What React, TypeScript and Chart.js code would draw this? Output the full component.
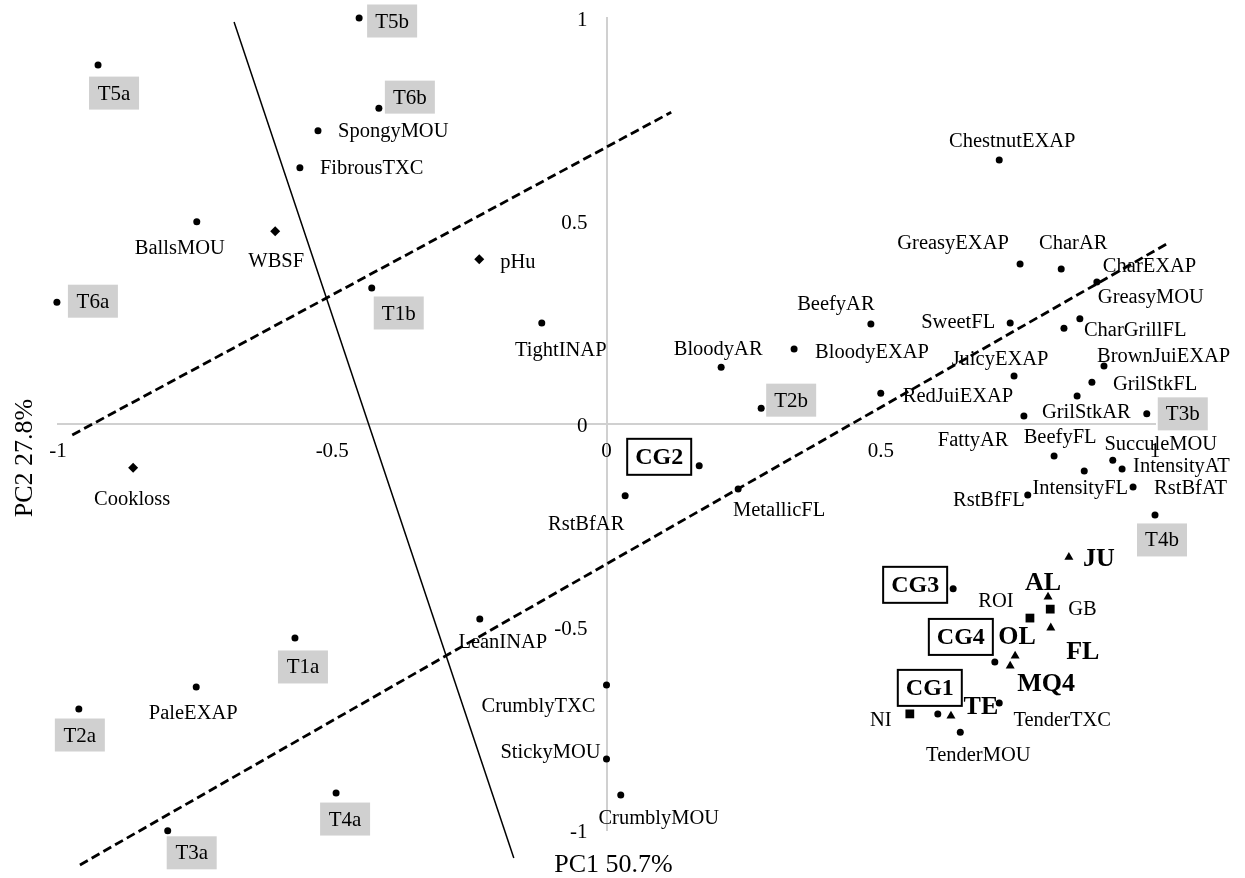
import { useEffect, useRef } from "react";
import { Chart, registerables } from "chart.js";

Chart.register(...registerables);

// Sensory attributes: PC1 / PC2 loadings
const attrNames = [
  "ChestnutEXAP", "GreasyEXAP", "CharAR", "CharEXAP", "GreasyMOU", "CharGrillFL", "SweetFL",
  "BeefyAR", "BloodyEXAP", "BloodyAR", "JuicyEXAP", "BrownJuiEXAP", "GrilStkFL", "RedJuiEXAP",
  "GrilStkAR", "BeefyFL", "FattyAR", "SucculeMOU", "IntensityAT", "IntensityFL", "RstBfAT",
  "RstBfFL", "SpongyMOU", "FibrousTXC", "BallsMOU", "TightINAP", "RstBfAR", "MetallicFL",
  "LeanINAP", "CrumblyTXC", "StickyMOU", "CrumblyMOU", "PaleEXAP", "TenderTXC", "TenderMOU",
];
const attrPC1 = [
  0.716, 0.754, 0.829, 0.894, 0.863, 0.834, 0.736,
  0.482, 0.342, 0.209, 0.743, 0.907, 0.885, 0.5,
  0.761, 0.858, 0.816, 0.923, 0.94, 0.871, 0.96,
  0.768, -0.526, -0.559, -0.747, -0.118, 0.034, 0.24,
  -0.231, 0.0, 0.0, 0.026, -0.748, 0.716, 0.645,
];
const attrPC2 = [
  0.65, 0.394, 0.382, 0.35, 0.259, 0.236, 0.249,
  0.246, 0.185, 0.14, 0.118, 0.143, 0.103, 0.076,
  0.02, 0.069, -0.079, -0.089, -0.111, -0.116, -0.155,
  -0.175, 0.722, 0.631, 0.498, 0.249, -0.177, -0.16,
  -0.48, -0.643, -0.825, -0.914, -0.648, -0.687, -0.759,
];

// Instrumental measures
const physNames = ["WBSF", "pHu", "Cookloss"];
const physPC1 = [-0.604, -0.232, -0.863];
const physPC2 = [0.475, 0.406, -0.108];

// Treatments
const treatNames = ["T5b", "T5a", "T6b", "T6a", "T1b", "T2b", "T3b", "T4b", "T1a", "T2a", "T4a", "T3a"];
const treatPC1 = [-0.451, -0.927, -0.415, -1.002, -0.428, 0.282, 0.985, 1.0, -0.568, -0.962, -0.493, -0.8];
const treatPC2 = [1.0, 0.884, 0.778, 0.3, 0.335, 0.039, 0.025, -0.224, -0.527, -0.702, -0.909, -1.002];

// Consumer groups
const cgNames = ["CG2", "CG3", "CG4", "CG1"];
const cgPC1 = [0.169, 0.632, 0.708, 0.604];
const cgPC2 = [-0.103, -0.406, -0.586, -0.714];

// Consumer origins (triangles)
const originNames = ["JU", "AL", "FL", "OL", "MQ4", "TE"];
const originPC1 = [0.843, 0.805, 0.81, 0.745, 0.736, 0.628];
const originPC2 = [-0.328, -0.426, -0.502, -0.571, -0.596, -0.719];

// Countries (squares)
const countryNames = ["GB", "ROI", "NI"];
const countryPC1 = [0.809, 0.772, 0.553];
const countryPC2 = [-0.456, -0.478, -0.714];

// Separation lines (end points in PC1 / PC2 units)
const solidLineX = [-0.679, -0.169];
const solidLineY = [0.99, -1.069];
const dashUpperX = [-0.974, 0.118];
const dashUpperY = [-0.027, 0.768];
const dashLowerX = [-0.96, 1.027];
const dashLowerY = [-1.086, 0.448];

const axisTicks = [-1, -0.5, 0, 0.5, 1];

// Label placement relative to each marker: [dx, dy, align]
type Place = [number, number, "l" | "r" | "c"];
const attrPlace: Place[] = [
  [13, -19, "c"], [-67, -21, "c"], [12, -26, "c"], [6, -16, "l"], [18, -22, "l"], [20, 1, "l"], [-15, -1, "r"],
  [-35, -21, "c"], [21, 3, "l"], [-3, -19, "c"], [-14, -17, "c"], [-7, -10, "l"], [21, 1, "l"], [22, 2, "l"],
  [18, -4, "l"], [-17, 41, "c"], [-81, -16, "c"], [48, -17, "c"], [11, -3, "l"], [-4, 17, "c"], [21, 1, "l"],
  [-3, 5, "r"], [20, 0, "l"], [20, 0, "l"], [-17, 26, "c"], [19, 27, "c"], [-39, 28, "c"], [41, 21, "c"],
  [23, 23, "c"], [-68, 21, "c"], [-56, -7, "c"], [38, 23, "c"], [-3, 26, "c"], [63, 17, "c"], [18, 22, "c"],
];
const physPlace: Place[] = [[1, 29, "c"], [21, 2, "l"], [-1, 31, "c"]];
const treatPlace: Place[] = [
  [33, 3, "c"], [16, 28, "c"], [31, -11, "c"], [36, -1, "c"], [27, 25, "c"], [30, -8, "c"],
  [36, 0, "c"], [7, 25, "c"], [8, 29, "c"], [1, 26, "c"], [9, 26, "c"], [24, 22, "c"],
];
const cgPlace: Place[] = [[-40, -9, "c"], [-38, -4, "c"], [-34, -25, "c"], [-8, -26, "c"]];
const originPlace: Place[] = [[14, 1, "l"], [-5, -15, "c"], [32, 23, "c"], [2, -20, "c"], [36, 17, "c"], [30, -10, "c"]];
const countryPlace: Place[] = [[18, -1, "l"], [-34, -17, "c"], [-29, 6, "c"]];

const SERIF = '"Liberation Serif", "Times New Roman", serif';

const toPoints = (xs: number[], ys: number[]) => xs.map((x, i) => ({ x, y: ys[i] }));

type LabelStyle = "plain" | "grey" | "framed" | "bold";

const labelPlugin = {
  id: "biplotLabels",
  afterDatasetsDraw(chart: any) {
    const ctx: CanvasRenderingContext2D = chart.ctx;
    chart.data.datasets.forEach((ds: any, di: number) => {
      if (!ds.labelNames) return;
      const meta = chart.getDatasetMeta(di);
      const style: LabelStyle = ds.labelStyle;
      ctx.save();
      ctx.textBaseline = "middle";
      meta.data.forEach((el: any, i: number) => {
        const [dx, dy, al] = ds.labelPlace[i];
        const text = ds.labelNames[i];
        const cx = el.x + dx;
        const cy = el.y + dy;
        if (style === "grey") {
          ctx.fillStyle = "#d0d0d0";
          ctx.fillRect(cx - 25, cy - 16.5, 50, 33);
          ctx.font = `21px ${SERIF}`;
          ctx.fillStyle = "#000";
          ctx.textAlign = "center";
          ctx.fillText(text, cx, cy + 1);
          return;
        }
        if (style === "framed") {
          ctx.fillStyle = "#fff";
          ctx.fillRect(cx - 32, cy - 18, 64, 36);
          ctx.strokeStyle = "#000";
          ctx.lineWidth = 2;
          ctx.strokeRect(cx - 32, cy - 18, 64, 36);
          ctx.font = `bold 24px ${SERIF}`;
          ctx.fillStyle = "#000";
          ctx.textAlign = "center";
          ctx.fillText(text, cx, cy + 1);
          return;
        }
        ctx.font = style === "bold" ? `bold 26px ${SERIF}` : `20.5px ${SERIF}`;
        ctx.fillStyle = "#000";
        ctx.textAlign = al === "l" ? "left" : al === "r" ? "right" : "center";
        ctx.fillText(text, cx, cy + 1);
      });
      ctx.restore();
    });
  },
  afterDraw(chart: any) {
    const ctx: CanvasRenderingContext2D = chart.ctx;
    const xs = chart.scales.x;
    const ys = chart.scales.y;
    const x0 = xs.getPixelForValue(0);
    const y0 = ys.getPixelForValue(0);
    ctx.save();
    ctx.fillStyle = "#000";
    ctx.font = `21px ${SERIF}`;
    ctx.textBaseline = "middle";
    // tick labels of the horizontal axis, below the line
    ctx.textAlign = "center";
    axisTicks.forEach((v) => {
      ctx.fillText(String(v), xs.getPixelForValue(v), y0 + 27);
    });
    // tick labels of the vertical axis, to its left
    ctx.textAlign = "right";
    axisTicks.forEach((v) => {
      ctx.fillText(String(v), x0 - 19, ys.getPixelForValue(v) + 2);
    });
    // axis titles
    ctx.font = `26px ${SERIF}`;
    ctx.textAlign = "center";
    ctx.fillText("PC1 50.7%", x0 + 7, chart.height - 13);
    ctx.translate(25, (chart.chartArea.top + chart.chartArea.bottom) / 2 + 34);
    ctx.rotate(-Math.PI / 2);
    ctx.fillText("PC2 27.8%", 0, 0);
    ctx.restore();
  },
};

export default function App() {
  const canvasRef = useRef<HTMLCanvasElement | null>(null);

  useEffect(() => {
    document.body.style.margin = "0";
    const canvas = canvasRef.current;
    if (!canvas) return;

    const lineSet = (xs: number[], ys: number[], dashed: boolean) => ({
      data: toPoints(xs, ys),
      showLine: true,
      borderColor: "#000",
      borderWidth: dashed ? 2.8 : 1.5,
      borderDash: dashed ? [9, 4.5] : [],
      pointRadius: 0,
      clip: false as const,
    });

    const markerSet = (
      xs: number[], ys: number[], names: string[], place: Place[],
      pointStyle: string, radius: number, labelStyle: LabelStyle,
    ) => ({
      data: toPoints(xs, ys),
      showLine: false,
      pointStyle,
      pointRadius: radius,
      pointBackgroundColor: "#000",
      pointBorderColor: "#000",
      pointBorderWidth: 0,
      clip: false as const,
      labelNames: names,
      labelPlace: place,
      labelStyle,
    });

    const chart = new Chart(canvas, {
      type: "scatter",
      data: {
        datasets: [
          lineSet(solidLineX, solidLineY, false),
          lineSet(dashUpperX, dashUpperY, true),
          lineSet(dashLowerX, dashLowerY, true),
          markerSet(attrPC1, attrPC2, attrNames, attrPlace, "circle", 3.5, "plain"),
          markerSet(physPC1, physPC2, physNames, physPlace, "rectRot", 5, "plain"),
          markerSet(treatPC1, treatPC2, treatNames, treatPlace, "circle", 3.5, "grey"),
          markerSet(cgPC1, cgPC2, cgNames, cgPlace, "circle", 3.5, "framed"),
          markerSet(originPC1, originPC2, originNames, originPlace, "triangle", 5.2, "bold"),
          markerSet(countryPC1, countryPC2, countryNames, countryPlace, "rect", 6.2, "plain"),
        ] as any,
      },
      options: {
        animation: false,
        responsive: true,
        maintainAspectRatio: false,
        events: [],
        layout: { padding: { left: 58, right: 90, top: 18, bottom: 48 } },
        plugins: { legend: { display: false }, tooltip: { enabled: false } },
        scales: {
          x: {
            type: "linear",
            min: -1,
            max: 1,
            position: { y: 0 } as any,
            grid: { display: false, drawTicks: false },
            border: { display: true, color: "#d0d0d0", width: 2 },
            ticks: { display: false, stepSize: 0.5 },
          },
          y: {
            type: "linear",
            min: -1,
            max: 1,
            position: { x: 0 } as any,
            grid: { display: false, drawTicks: false },
            border: { display: true, color: "#d0d0d0", width: 2 },
            ticks: { display: false, stepSize: 0.5 },
          },
        },
      },
      plugins: [labelPlugin],
    });

    return () => chart.destroy();
  }, []);

  return (
    <div style={{ position: "relative", width: 1245, height: 878 }}>
      <canvas ref={canvasRef} />
    </div>
  );
}
